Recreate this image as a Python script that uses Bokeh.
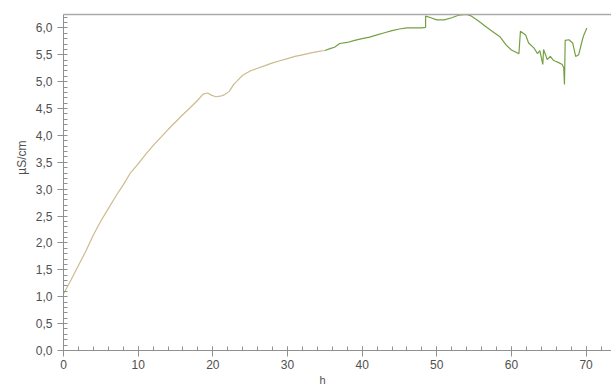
from bokeh.plotting import figure
from bokeh.models import LinearAxis, FixedTicker, CustomJSTickFormatter, Range1d, Title
from bokeh.embed import file_html
from bokeh.resources import INLINE

hours = [0, 0.5, 1, 2, 3, 4, 5, 6, 7, 8, 9, 10, 11, 12, 13, 14, 15, 16, 17, 18,
         18.7, 19.3, 19.8, 20.4, 21.0, 21.6, 22.2, 22.8, 23.3, 24.0, 25, 26, 27, 28,
         29, 30, 31, 32, 33, 34, 35]
cond = [1.05, 1.18, 1.31, 1.58, 1.85, 2.15, 2.41, 2.64, 2.87, 3.08, 3.31, 3.47, 3.65,
        3.81, 3.96, 4.11, 4.25, 4.39, 4.52, 4.66, 4.77, 4.79, 4.75, 4.72, 4.73, 4.76,
        4.82, 4.95, 5.02, 5.12, 5.20, 5.25, 5.30, 5.35, 5.39, 5.43, 5.47, 5.50, 5.53,
        5.56, 5.58]

hours_late = [35, 35.8, 36.3, 37, 38, 39, 40, 41, 42, 43, 44, 45, 46, 47, 48, 48.5, 48.5,
              49.2, 50, 51, 52, 53, 54, 54.5, 55.5, 56.5, 57.5, 58.5, 59.3, 60, 61, 61.2,
              61.9, 62.3, 63.0, 63.5, 63.8, 64.2, 64.3, 64.8, 65.2, 65.6, 65.9, 66.4, 66.8,
              67.0, 67.1, 67.2, 67.7, 68.2, 68.6, 69.0, 69.5, 69.7, 70.1]
cond_late = [5.58, 5.62, 5.64, 5.71, 5.73, 5.77, 5.80, 5.83, 5.87, 5.91, 5.95, 5.98, 6.00,
             6.00, 6.00, 6.01, 6.22, 6.19, 6.15, 6.15, 6.19, 6.24, 6.25, 6.23, 6.14, 6.03,
             5.93, 5.83, 5.68, 5.59, 5.52, 5.94, 5.87, 5.72, 5.63, 5.52, 5.58, 5.32, 5.60,
             5.41, 5.47, 5.40, 5.38, 5.35, 5.32, 5.26, 4.95, 5.77, 5.78, 5.72, 5.47, 5.50,
             5.78, 5.87, 6.00]

x_ticks = [0, 10, 20, 30, 40, 50, 60, 70]
y_ticks = [0.0, 0.5, 1.0, 1.5, 2.0, 2.5, 3.0, 3.5, 4.0, 4.5, 5.0, 5.5, 6.0]
x_title = "h"
y_title = "µS/cm"

p = figure(width=611, height=385, output_backend="svg", toolbar_location=None,
           x_range=Range1d(0, 73.4), y_range=Range1d(0, 6.25),
           min_border_left=63, min_border_right=0, min_border_top=14, min_border_bottom=35)
p.outline_line_color = None
p.grid.visible = False
p.background_fill_color = "white"
p.border_fill_color = "white"

p.line(hours, cond, line_color="#cdbb8e", line_width=1.2)
p.line(hours_late, cond_late, line_color="#74a044", line_width=1.2)

lab_color = "#505050"
axis_col = "#909090"
xa = p.xaxis[0]
xa.ticker = FixedTicker(ticks=x_ticks, minor_ticks=list(range(0, 74, 2)))
xa.axis_line_color = axis_col
xa.major_tick_line_color = axis_col
xa.minor_tick_line_color = axis_col
xa.major_tick_out = 6
xa.major_tick_in = 4
xa.minor_tick_in = 4
xa.minor_tick_out = 0
xa.major_label_standoff = 3
xa.major_label_text_font = "Liberation Sans"
xa.major_label_text_font_size = "12px"
xa.major_label_text_color = lab_color

ya = p.yaxis[0]
ya.ticker = FixedTicker(ticks=y_ticks, minor_ticks=[i / 10 for i in range(0, 63)])
ya.formatter = CustomJSTickFormatter(code="return tick.toFixed(1).replace('.', ',');")
ya.axis_line_color = axis_col
ya.major_tick_line_color = axis_col
ya.minor_tick_line_color = axis_col
ya.major_tick_out = 6
ya.major_tick_in = 2
ya.minor_tick_in = 4
ya.minor_tick_out = 0
ya.major_label_standoff = 5
ya.major_label_text_font = "Liberation Sans"
ya.major_label_text_font_size = "12px"
ya.major_label_text_color = lab_color

p.add_layout(Title(text=x_title, align="left", offset=256, standoff=0,
                   text_font="Liberation Sans", text_font_size="11px",
                   text_font_style="normal", text_color=lab_color), "below")
p.add_layout(Title(text=y_title, align="right", offset=126, standoff=8,
                   text_font="Liberation Sans", text_font_size="12px",
                   text_font_style="normal", text_color=lab_color), "left")

top = LinearAxis(major_tick_line_color=None, minor_tick_line_color=None,
                 major_label_text_font_size="0px", axis_line_color="#aaaaaa",
                 axis_line_width=1.5)
top.ticker = FixedTicker(ticks=[])
p.add_layout(top, "above")

open("out.html", "w").write(file_html(p, INLINE))
